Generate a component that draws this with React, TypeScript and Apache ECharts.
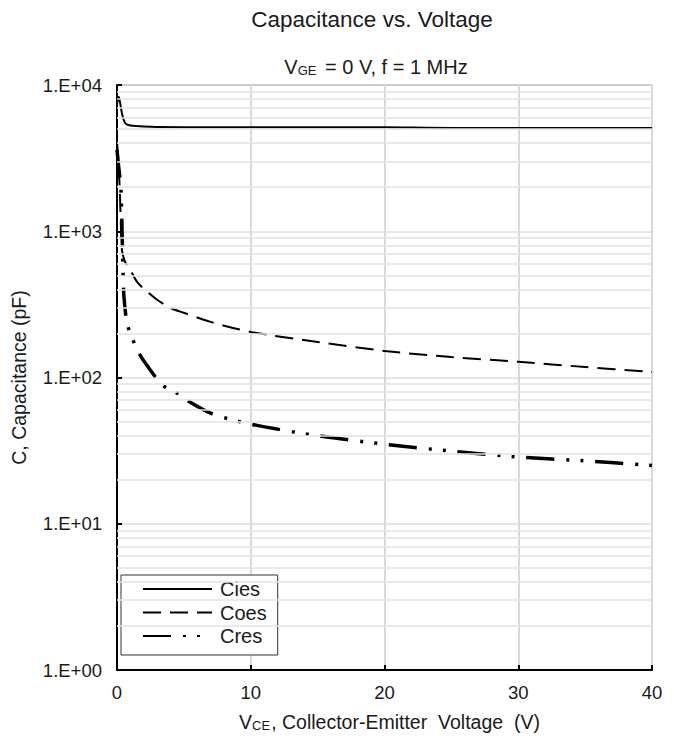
import React, { useEffect, useRef } from "react";
import * as echarts from "echarts";

const xCies = [0, 0.1, 0.15, 0.25, 0.4, 0.6, 0.8, 1, 2, 3, 5, 10, 15, 20, 25, 30, 35, 40];
const cies = [7300, 8300, 8200, 7400, 6200, 5500, 5350, 5280, 5200, 5160, 5150, 5150, 5150, 5140, 5080, 5080, 5080, 5080];

const xCoes = [0, 0.1, 0.2, 0.3, 0.37, 0.6, 1, 1.5, 2.1, 3, 4, 5, 7, 10, 15, 20, 25, 30, 35, 40];
const coes = [4200, 3000, 2000, 1050, 745, 620, 543, 450, 397, 340, 299, 277, 240, 205, 175, 152, 138, 128, 118, 109];

const xCres = [0, 0.1, 0.2, 0.3, 0.41, 0.47, 0.52, 0.75, 1.1, 1.6, 2.1, 3.4, 4.5, 5, 7, 10, 15, 20, 25, 30, 35, 40];
const cres = [3600, 2900, 2400, 1900, 745, 460, 355, 235, 190, 149, 126, 89, 78, 72, 57, 48, 40, 35, 31.4, 28.6, 26.9, 25];

const minorGrid = [2, 3, 4, 5, 6, 7, 8, 9].flatMap((m) => [1, 10, 100, 1000].map((d) => m * d));

const FONT = "Liberation Sans, Arial, sans-serif";
const INK = "#1a1a1a";

export default function App() {
  const ref = useRef<HTMLDivElement>(null);
  useEffect(() => {
    const chart = echarts.init(ref.current!, null, { renderer: "svg" });
    const pairs = (xs: number[], ys: number[]) => xs.map((x, i) => [x, ys[i]]);
    chart.setOption({
      animation: false,
      textStyle: { fontFamily: FONT, color: INK },
      title: [
        {
          text: "Capacitance vs. Voltage",
          left: 367,
          top: 3,
          textAlign: "center",
          textStyle: { fontFamily: FONT, fontSize: 22.5, fontWeight: "normal", color: INK },
        },
        {
          text: "{a|V}{s|GE}{a| = 0 V, f = 1 MHz}",
          left: 371,
          top: 49,
          textAlign: "center",
          textStyle: {
            fontWeight: "normal",
            rich: {
              a: { fontFamily: FONT, fontSize: 20, fontWeight: "normal", color: INK, verticalAlign: "bottom" },
              s: { fontFamily: FONT, fontSize: 13, fontWeight: "normal", color: INK, padding: [10, 3, 0, 0], verticalAlign: "bottom" },
            },
          },
        },
      ],
      grid: {
        left: 117,
        right: 26,
        top: 85,
        bottom: 72,
        show: true,
        borderColor: "#444",
        borderWidth: 1,
        backgroundColor: "transparent",
      },
      legend: {
        data: ["Cies", "Coes", "Cres"],
        orient: "vertical",
        left: 121,
        top: 575,
        itemWidth: 69,
        itemHeight: 14,
        itemGap: 3.5,
        padding: [4, 11, 9, 21],
        backgroundColor: "#fff",
        borderColor: "#333",
        borderWidth: 1,
        borderRadius: 0,
        itemStyle: { color: "transparent", borderWidth: 0, opacity: 0 },
        textStyle: { fontFamily: FONT, fontSize: 20, color: INK, padding: [0, 0, 0, 3] },
      },
      xAxis: {
        type: "value",
        min: 0,
        max: 40,
        interval: 10,
        name: "{a|V}{s|CE}{a|, Collector-Emitter  Voltage  (V)}",
        nameLocation: "middle",
        nameGap: 39,
        nameTextStyle: {
          padding: [0, 0, 0, 10],
          rich: {
            a: { fontFamily: FONT, fontSize: 19.5, color: INK, verticalAlign: "bottom" },
            s: { fontFamily: FONT, fontSize: 13, color: INK, padding: [10, 1, 0, 0], verticalAlign: "bottom" },
          },
        },
        axisLine: { show: true, onZero: false, lineStyle: { color: "#000", width: 2 } },
        axisTick: { show: true, inside: true, length: 5, lineStyle: { color: "#000", width: 2 } },
        axisLabel: { fontFamily: FONT, fontSize: 18.5, color: INK, margin: 13 },
        splitLine: { show: true, lineStyle: { color: "#d9d9d9", width: 2 } },
      },
      yAxis: {
        type: "log",
        logBase: 10,
        min: 1,
        max: 10000,
        name: "C, Capacitance (pF)",
        nameLocation: "middle",
        nameGap: 88,
        nameRotate: 90,
        nameTextStyle: { fontFamily: FONT, fontSize: 19.5, color: INK },
        axisLine: { show: true, onZero: false, lineStyle: { color: "#000", width: 2 } },
        axisTick: { show: true, inside: true, length: 5, lineStyle: { color: "#000", width: 2 } },
        axisLabel: {
          fontFamily: FONT,
          fontSize: 18.5,
          color: INK,
          margin: 15,
          formatter: (v: number) => "1.E+0" + Math.round(Math.log10(v)),
        },
        splitLine: { show: true, lineStyle: { color: "#dcdcdc", width: 1.5 } },
      },
      series: [
        {
          name: "grid-minor",
          type: "line",
          data: [],
          silent: true,
          z: 1,
          markLine: {
            silent: true,
            symbol: "none",
            label: { show: false },
            lineStyle: { color: "#e2e2e2", width: 1.5, type: "solid" },
            data: minorGrid.map((v) => ({ yAxis: v })),
          },
        },
        {
          name: "Cies",
          type: "line",
          data: pairs(xCies, cies),
          showSymbol: false,
          symbol: "none",
          smooth: 0.3,
          z: 3,
          lineStyle: { color: "#000", width: 2, type: "solid" },
          itemStyle: { color: "#000" },
        },
        {
          name: "Coes",
          type: "line",
          data: pairs(xCoes, coes),
          showSymbol: false,
          symbol: "none",
          smooth: 0.3,
          z: 3,
          lineStyle: { color: "#000", width: 2, type: [18, 9] },
          itemStyle: { color: "#000" },
        },
        {
          name: "Cres",
          type: "line",
          data: pairs(xCres, cres),
          showSymbol: false,
          symbol: "none",
          smooth: 0.3,
          z: 3,
          lineStyle: { color: "#000", width: 3.5, type: [28, 12, 3, 11, 3, 12] },
          itemStyle: { color: "#000" },
        },
      ],
    });
    return () => chart.dispose();
  }, []);
  return (
    <div
      ref={ref}
      style={{ position: "fixed", left: 0, top: 0, width: 678, height: 742, background: "#fff" }}
    />
  );
}
